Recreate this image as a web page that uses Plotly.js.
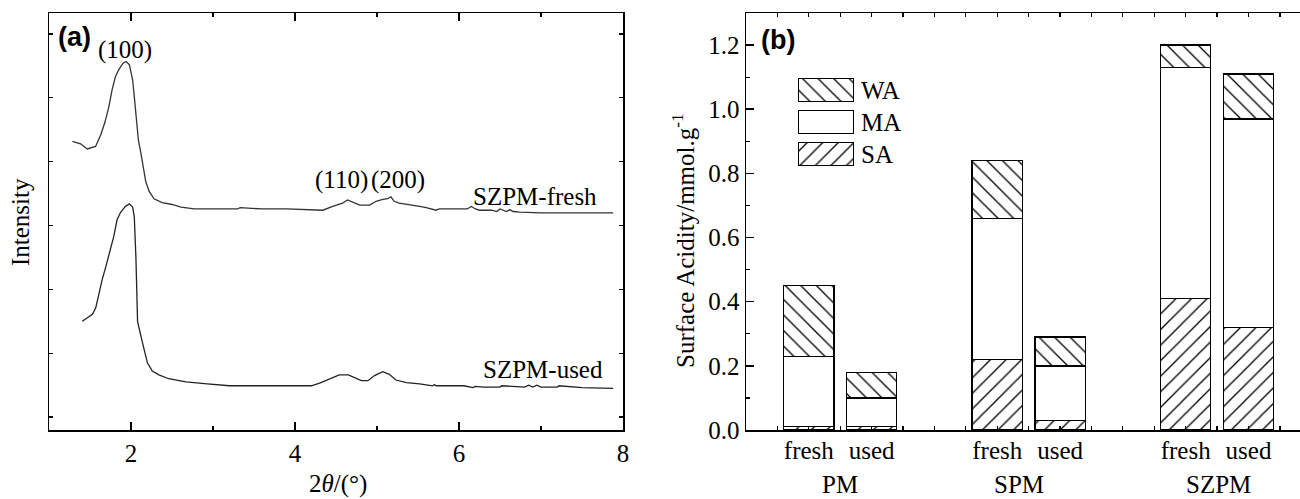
<!DOCTYPE html>
<html>
<head>
<meta charset="utf-8">
<script src="https://cdn.plot.ly/plotly-3.0.1.min.js"></script>
<style>
  html, body { margin: 0; padding: 0; background: #fff; }
  #chart { width: 1300px; height: 499px; }
</style>
</head>
<body>
<div id="chart"></div>
<script>
// (a) small-angle XRD patterns, intensity in arbitrary units (curves stacked)
const freshTheta = [1.285,1.385,1.466,1.568,1.63,1.68,1.73,1.77,1.81,1.85,1.9,1.94,1.98,2.02,2.04,2.06,2.09,2.12,2.15,2.18,2.22,2.28,2.38,2.5,2.61,2.77,3.0,3.3,3.33,3.6,3.9,4.22,4.34,4.46,4.58,4.64,4.70,4.79,4.91,4.99,5.07,5.13,5.17,5.21,5.27,5.40,5.52,5.60,5.68,5.72,5.76,6.0,6.1,6.15,6.2,6.25,6.4,6.46,6.50,6.58,6.62,6.66,6.74,7.0,7.4,7.88];
const freshInt   = [4.32,4.28,4.20,4.24,4.42,4.61,4.86,5.13,5.33,5.44,5.54,5.57,5.52,5.28,5.02,4.71,4.34,4.14,3.93,3.69,3.54,3.42,3.36,3.33,3.29,3.26,3.26,3.26,3.28,3.26,3.26,3.24,3.24,3.30,3.35,3.40,3.37,3.32,3.32,3.38,3.41,3.42,3.45,3.38,3.35,3.33,3.30,3.28,3.26,3.24,3.26,3.26,3.26,3.30,3.26,3.24,3.24,3.22,3.26,3.22,3.25,3.22,3.21,3.20,3.20,3.20];

const usedTheta = [1.405,1.47,1.53,1.57,1.61,1.65,1.69,1.73,1.79,1.83,1.87,1.93,1.98,2.02,2.04,2.06,2.08,2.12,2.16,2.20,2.26,2.34,2.46,2.67,2.93,3.20,3.6,4.0,4.2,4.30,4.38,4.46,4.54,4.65,4.73,4.81,4.89,4.97,5.07,5.15,5.23,5.36,5.52,5.68,5.70,5.72,6.06,6.17,6.2,6.3,6.5,6.52,6.8,6.85,6.9,6.95,7.0,7.2,7.22,7.5,7.88];
const usedInt   = [1.50,1.56,1.61,1.71,1.95,2.16,2.34,2.52,2.83,3.09,3.20,3.30,3.34,3.29,3.14,2.50,1.50,1.27,1.06,0.85,0.72,0.66,0.60,0.55,0.52,0.49,0.49,0.49,0.49,0.53,0.57,0.61,0.66,0.66,0.62,0.57,0.57,0.65,0.71,0.67,0.58,0.54,0.52,0.49,0.51,0.49,0.49,0.46,0.48,0.47,0.47,0.49,0.47,0.50,0.47,0.50,0.47,0.47,0.49,0.46,0.45];

// (b) surface acidity by strength, mmol/g
const samplePos    = [1, 2, 4, 5, 7, 8];
const sampleLabels = ['fresh', 'used', 'fresh', 'used', 'fresh', 'used'];
const groupNames   = ['PM', 'SPM', 'SZPM'];
const strongAcid   = [0.01, 0.01, 0.22, 0.03, 0.41, 0.32];
const mediumAcid   = [0.22, 0.09, 0.44, 0.17, 0.72, 0.65];
const weakAcid     = [0.22, 0.08, 0.18, 0.09, 0.07, 0.14];
const keyNames     = ['WA', 'MA', 'SA'];

const serif = "'Liberation Serif', 'Times New Roman', serif";
const sans = "'Liberation Sans', Arial, sans-serif";
const ink = '#000';
const FS = 25;

const hatch = (shape) => ({
  color: '#fff',
  line: { color: ink, width: 1.3 },
  pattern: { shape: shape, fgcolor: ink, bgcolor: '#fff', size: 11, solidity: 0.12, fillmode: 'replace' }
});
const styles = { WA: hatch('\\'), MA: hatch(''), SA: hatch('/') };

const traces = [
  { x: freshTheta, y: freshInt, xaxis: 'x', yaxis: 'y', type: 'scatter', mode: 'lines',
    line: { color: '#333', width: 1.3 }, hoverinfo: 'skip' },
  { x: usedTheta, y: usedInt, xaxis: 'x', yaxis: 'y', type: 'scatter', mode: 'lines',
    line: { color: '#222', width: 1.3 }, hoverinfo: 'skip' },
  { x: samplePos, y: strongAcid, xaxis: 'x2', yaxis: 'y2', type: 'bar', width: 0.8, marker: styles.SA },
  { x: samplePos, y: mediumAcid, xaxis: 'x2', yaxis: 'y2', type: 'bar', width: 0.8, marker: styles.MA },
  { x: samplePos, y: weakAcid,   xaxis: 'x2', yaxis: 'y2', type: 'bar', width: 0.8, marker: styles.WA },
  // carries the sample-name axis (fresh / used) so it is rendered; draws nothing itself
  { x: samplePos, y: strongAcid, xaxis: 'x4', yaxis: 'y2', type: 'scatter', mode: 'none', hoverinfo: 'skip' }
];

// key boxes: one horizontal bar per acid strength on a small dedicated axis
keyNames.forEach(name => {
  traces.push({ x: [1], y: [name], xaxis: 'x3', yaxis: 'y3', type: 'bar', orientation: 'h',
    width: 0.72, marker: styles[name], hoverinfo: 'skip' });
});

const W = 1300, plotTop = 13, plotBottom = 430, plotH = plotBottom - plotTop;
const py = (px) => (plotBottom - px) / plotH;

const frame = { showline: true, linecolor: ink, linewidth: 1.5, showgrid: false, zeroline: false };

const layout = {
  width: 1300, height: 499,
  margin: { l: 0, r: 0, t: plotTop, b: 499 - plotBottom },
  paper_bgcolor: '#fff', plot_bgcolor: '#fff',
  showlegend: false, barmode: 'stack', bargap: 0,
  font: { family: serif, size: FS, color: ink },
  xaxis: Object.assign({}, frame, {
    domain: [49 / W, 623 / W], range: [1, 8], anchor: 'y',
    tickmode: 'linear', tick0: 0, dtick: 2, ticks: 'inside', ticklen: 8, tickwidth: 1.5, tickcolor: ink,
    minor: { tick0: 1, dtick: 1, ticks: 'inside', ticklen: 4, tickwidth: 1.2, tickcolor: ink },
    mirror: 'ticks', tickfont: { family: serif, size: FS }
  }),
  yaxis: Object.assign({}, frame, {
    domain: [0, 1], range: [-0.203, 6.33], anchor: 'x',
    tickmode: 'linear', tick0: 0, dtick: 1, ticks: 'inside', ticklen: 4, tickwidth: 1.2, tickcolor: ink,
    showticklabels: false, mirror: 'ticks'
  }),
  xaxis2: Object.assign({}, frame, {
    domain: [746 / W, 1], range: [0, 8.82], anchor: 'y2',
    tickmode: 'linear', tick0: 0, dtick: 0.5, ticks: 'inside', ticklen: 4, tickwidth: 1.2, tickcolor: ink,
    showticklabels: false, mirror: 'ticks'
  }),
  xaxis4: {
    overlaying: 'x2', anchor: 'y2', range: [0, 8.82], side: 'bottom',
    tickmode: 'array', tickvals: samplePos, ticktext: sampleLabels,
    ticks: '', showline: false, showgrid: false, zeroline: false,
    ticklabelstandoff: 3, tickfont: { family: serif, size: FS }
  },
  yaxis2: Object.assign({}, frame, {
    domain: [0, 1], range: [0, 1.3], anchor: 'x2',
    tickmode: 'linear', tick0: 0, dtick: 0.2, tickformat: '.1f',
    ticks: 'inside', ticklen: 8, tickwidth: 1.5, tickcolor: ink,
    minor: { tick0: 0, dtick: 0.1, ticks: 'inside', ticklen: 4, tickwidth: 1.2, tickcolor: ink },
    tickfont: { family: serif, size: FS }
  }),
  xaxis3: { domain: [798 / W, 854 / W], range: [0, 1], anchor: 'y3', visible: false, fixedrange: true },
  yaxis3: {
    domain: [py(170), py(74)], anchor: 'x3', type: 'category',
    categoryorder: 'array', categoryarray: keyNames, autorange: 'reversed',
    side: 'right', ticks: '', showline: false, showgrid: false, zeroline: false,
    ticklabelstandoff: 6, tickfont: { family: serif, size: FS }
  },
  annotations: [
    { text: '<b>(a)</b>', xref: 'paper', yref: 'paper', x: 56 / W, y: py(37), xanchor: 'left', yanchor: 'middle',
      showarrow: false, font: { family: sans, size: 27 } },
    { text: '<b>(b)</b>', xref: 'paper', yref: 'paper', x: 759 / W, y: py(40), xanchor: 'left', yanchor: 'middle',
      showarrow: false, font: { family: sans, size: 27 } },
    { text: '(100)', xref: 'x', yref: 'y', x: 1.93, y: 5.75, showarrow: false, yanchor: 'middle' },
    { text: '(110)', xref: 'x', yref: 'y', x: 4.57, y: 3.72, showarrow: false, yanchor: 'middle' },
    { text: '(200)', xref: 'x', yref: 'y', x: 5.26, y: 3.72, showarrow: false, yanchor: 'middle' },
    { text: 'SZPM-fresh', xref: 'x', yref: 'y', x: 6.93, y: 3.46, showarrow: false, yanchor: 'middle' },
    { text: 'SZPM-used', xref: 'x', yref: 'y', x: 7.02, y: 0.75, showarrow: false, yanchor: 'middle' },
    { text: 'Intensity', xref: 'paper', yref: 'paper', x: 20 / W, y: py(222), textangle: -90,
      showarrow: false, xanchor: 'center', yanchor: 'middle' },
    { text: '2<i>θ</i>/(°)', xref: 'paper', yref: 'paper', x: 338 / W, y: py(499),
      showarrow: false, xanchor: 'center', yanchor: 'bottom', borderpad: 0 },
    { text: 'Surface Acidity/mmol.g<sup>-1</sup>', xref: 'paper', yref: 'paper', x: 683 / W, y: py(240),
      textangle: -90, showarrow: false, xanchor: 'center', yanchor: 'middle' },
    { text: groupNames[0], xref: 'x2', yref: 'paper', x: 1.49, y: py(499), showarrow: false, yanchor: 'bottom', borderpad: 0 },
    { text: groupNames[1], xref: 'x2', yref: 'paper', x: 4.35, y: py(499), showarrow: false, yanchor: 'bottom', borderpad: 0 },
    { text: groupNames[2], xref: 'x2', yref: 'paper', x: 7.52, y: py(499), showarrow: false, yanchor: 'bottom', borderpad: 0 }
  ]
};

Plotly.newPlot('chart', traces, layout, { staticPlot: true, displayModeBar: false });
</script>
</body>
</html>
